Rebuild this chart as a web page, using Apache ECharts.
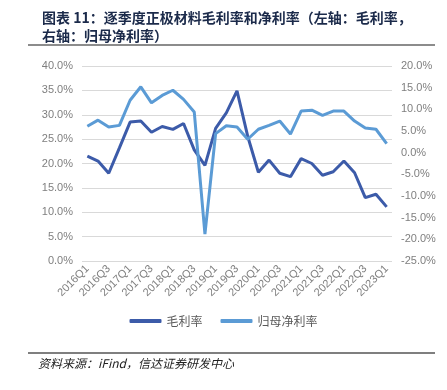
<!DOCTYPE html>
<html>
<head>
<meta charset="utf-8">
<script src="https://cdn.jsdelivr.net/npm/echarts@6/dist/echarts.min.js"></script>
<style>
  html, body { margin: 0; padding: 0; background: #fff; }
  #chart { width: 447px; height: 390px; }
</style>
</head>
<body>
<div id="chart"></div>
<script>
// 季度
const quarters = [
  '2016Q1','2016Q2','2016Q3','2016Q4','2017Q1','2017Q2','2017Q3','2017Q4',
  '2018Q1','2018Q2','2018Q3','2018Q4','2019Q1','2019Q2','2019Q3','2019Q4',
  '2020Q1','2020Q2','2020Q3','2020Q4','2021Q1','2021Q2','2021Q3','2021Q4',
  '2022Q1','2022Q2','2022Q3','2022Q4','2023Q1'
]
// 毛利率（左轴，%）
const grossMargin = [
  21.5, 20.5, 18.0, 23.2, 28.5, 28.7, 26.4, 27.6,
  27.0, 28.2, 22.8, 19.6, 27.2, 30.4, 34.9, 25.6,
  18.2, 20.7, 18.0, 17.3, 21.0, 20.0, 17.6, 18.3,
  20.5, 18.1, 13.0, 13.7, 11.1
]
// 归母净利率（右轴，%）
const netMargin = [
  6.1, 7.5, 5.9, 6.3, 12.1, 15.2, 11.5, 13.2,
  14.4, 12.3, 9.4, -18.8, 4.4, 6.2, 5.9, 3.1,
  5.4, 6.3, 7.3, 4.3, 9.6, 9.8, 8.6, 9.6,
  9.6, 7.3, 5.7, 5.4, 2.1
]

const chart = echarts.init(document.getElementById('chart'))
const axisFont = { color: '#7f7f7f', fontSize: 11, fontFamily: 'Liberation Sans' }

const option = {
  animation: false,
  title: {
    text: '图表 11：逐季度正极材料毛利率和净利率（左轴：毛利率，\n右轴：归母净利率）',
    left: 37,
    top: 4,
    textStyle: {
      fontFamily: 'Noto Sans CJK SC',
      fontWeight: 'bold',
      fontSize: 14,
      lineHeight: 18,
      color: '#1b2a4a'
    }
  },
  graphic: [
    { type: 'line', shape: { x1: 28, y1: 45, x2: 435, y2: 45 }, style: { stroke: '#8c8c8c', lineWidth: 2 } },
    { type: 'line', shape: { x1: 28, y1: 353, x2: 435, y2: 353 }, style: { stroke: '#555', lineWidth: 1.5 } },
    {
      type: 'text', left: 38, top: 357,
      style: {
        text: '资料来源：iFind，信达证券研发中心',
        font: 'italic 12px "Noto Sans CJK SC"',
        fill: '#222'
      }
    }
  ],
  legend: {
    bottom: 58,
    left: 'center',
    icon: 'roundRect',
    itemWidth: 32,
    itemHeight: 4,
    itemGap: 18,
    textStyle: { color: '#595959', fontSize: 12, fontFamily: 'Noto Sans CJK SC' },
    data: ['毛利率', '归母净利率']
  },
  grid: { left: 82, right: 55, top: 66, bottom: 129 },
  xAxis: {
    type: 'category',
    data: quarters,
    axisLine: { show: false },
    axisTick: { show: false },
    axisLabel: { ...axisFont, rotate: 45, interval: 1, margin: 6 }
  },
  yAxis: [
    {
      type: 'value', min: 0, max: 40, interval: 5,
      axisLabel: { ...axisFont, formatter: v => v.toFixed(1) + '%', margin: 9 },
      splitLine: { lineStyle: { color: '#d9d9d9', width: 1 } },
      axisLine: { show: false }, axisTick: { show: false }
    },
    {
      type: 'value', min: -25, max: 20, interval: 5,
      axisLabel: { ...axisFont, formatter: v => v.toFixed(1) + '%', margin: 9 },
      splitLine: { show: false },
      axisLine: { show: false }, axisTick: { show: false }
    }
  ],
  series: [
    {
      name: '毛利率', type: 'line', yAxisIndex: 0, data: grossMargin,
      symbol: 'none', lineStyle: { color: '#3c5ba9', width: 3 }, itemStyle: { color: '#3c5ba9' }
    },
    {
      name: '归母净利率', type: 'line', yAxisIndex: 1, data: netMargin,
      symbol: 'none', lineStyle: { color: '#5b9bd5', width: 3 }, itemStyle: { color: '#5b9bd5' }
    }
  ]
}

chart.setOption(option)
</script>
</body>
</html>
